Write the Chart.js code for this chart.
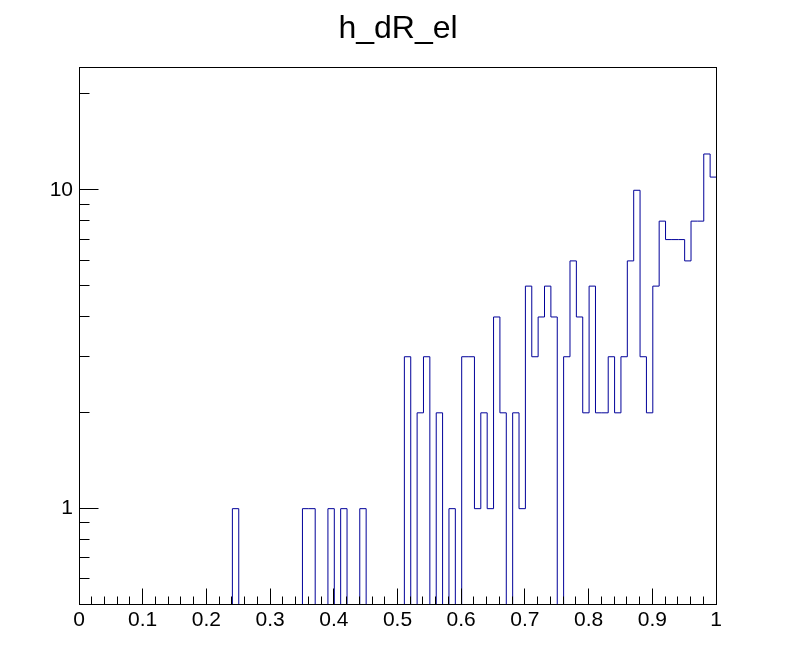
<!DOCTYPE html>
<html>
<head>
<meta charset="utf-8">
<script src="https://cdn.jsdelivr.net/npm/chart.js@4/dist/chart.umd.min.js"></script>
<style>
  html, body { margin: 0; padding: 0; background: #fff; }
  #wrap { width: 796px; height: 672px; }
</style>
</head>
<body>
<div id="wrap"><canvas id="h_dR_el" width="796" height="672"></canvas></div>
<script>
// histogram h_dR_el : 100 bins from 0 to 1
var nBins = 100;
var xMin = 0;
var xMax = 1;
var counts = [
  0, 0, 0, 0, 0, 0, 0, 0, 0, 0,
  0, 0, 0, 0, 0, 0, 0, 0, 0, 0,
  0, 0, 0, 0, 1, 0, 0, 0, 0, 0,
  0, 0, 0, 0, 0, 1, 1, 0, 0, 1,
  0, 1, 0, 0, 1, 0, 0, 0, 0, 0,
  0, 3, 0, 2, 3, 0, 2, 0, 1, 0,
  3, 3, 1, 2, 1, 4, 2, 0, 2, 1,
  5, 3, 4, 5, 4, 0, 3, 6, 4, 2,
  5, 2, 2, 3, 2, 3, 6, 10, 3, 2,
  5, 8, 7, 7, 7, 6, 8, 8, 13, 11
];

var yMin = 0.5;
var yMax = 24.3;
var xTickLabels = ['0', '0.1', '0.2', '0.3', '0.4', '0.5', '0.6', '0.7', '0.8', '0.9', '1'];
var xTickValues = [0, 0.1, 0.2, 0.3, 0.4, 0.5, 0.6, 0.7, 0.8, 0.9, 1];
var xMinorStep = 0.02;
var yTickValues = [1, 10];
var yTickLabels = ['1', '10'];
var yMinorValues = [0.6, 0.7, 0.8, 0.9, 2, 3, 4, 5, 6, 7, 8, 9, 20];

var lineColor = '#000099';
var fontFamily = "'Liberation Sans', Arial, Helvetica, sans-serif";

// step outline: one point per bin low edge, plus the upper edge of the last bin
var binWidth = (xMax - xMin) / nBins;
var points = [];
for (var i = 0; i < nBins; i++) {
  points.push({ x: xMin + i * binWidth, y: Math.max(counts[i], yMin) });
}
points.push({ x: xMax, y: Math.max(counts[nBins - 1], yMin) });

// half pixel shift so the 1px outline is not smeared over two pixels
var crispLines = {
  id: 'crispLines',
  beforeDatasetsDraw: function(chart) { chart.ctx.save(); chart.ctx.translate(0.5, 0.5); },
  afterDatasetsDraw: function(chart) { chart.ctx.restore(); }
};

// ROOT style frame with ticks drawn inside
var rootFrame = {
  id: 'rootFrame',
  afterDraw: function(chart) {
    var ctx = chart.ctx;
    var xs = chart.scales.x, ys = chart.scales.y;
    var a = chart.chartArea;
    var L = Math.floor(a.left) + 0.5, R = Math.floor(a.right) + 0.5;
    var T = Math.floor(a.top) + 0.5, B = Math.floor(a.bottom) + 0.5;
    ctx.save();
    ctx.strokeStyle = '#000';
    ctx.lineWidth = 1;
    ctx.strokeRect(L, T, R - L, B - T);
    ctx.beginPath();
    var k, px, py;
    for (k = 0; k <= Math.round((xMax - xMin) / xMinorStep); k++) {
      var v = xMin + k * xMinorStep;
      px = Math.floor(xs.getPixelForValue(v)) + 0.5;
      var major = Math.abs(v * 10 - Math.round(v * 10)) < 1e-6;
      ctx.moveTo(px, B);
      ctx.lineTo(px, B - (major ? 16 : 8));
    }
    for (k = 0; k < yTickValues.length; k++) {
      py = Math.floor(ys.getPixelForValue(yTickValues[k])) + 0.5;
      ctx.moveTo(L, py);
      ctx.lineTo(L + 19, py);
    }
    for (k = 0; k < yMinorValues.length; k++) {
      py = Math.floor(ys.getPixelForValue(yMinorValues[k])) + 0.5;
      ctx.moveTo(L, py);
      ctx.lineTo(L + 10, py);
    }
    ctx.stroke();
    ctx.restore();
  }
};

var ctx = document.getElementById('h_dR_el').getContext('2d');
var chart = new Chart(ctx, {
  type: 'line',
  data: {
    datasets: [{
      label: 'h_dR_el',
      data: points,
      stepped: true,
      borderColor: lineColor,
      borderWidth: 1,
      pointRadius: 0,
      fill: false
    }]
  },
  options: {
    responsive: false,
    animation: false,
    layout: { padding: 0 },
    plugins: {
      legend: { display: false },
      tooltip: { enabled: false },
      title: {
        display: true,
        text: 'h_dR_el',
        color: '#000',
        font: { family: fontFamily, size: 32, weight: 'normal', lineHeight: 1.2 },
        padding: { top: 10, bottom: 18.6 }
      }
    },
    scales: {
      x: {
        type: 'linear',
        min: xMin,
        max: xMax,
        border: { display: false },
        grid: { display: false, drawTicks: false },
        afterBuildTicks: function(s) {
          s.ticks = xTickValues.map(function(v) { return { value: v }; });
        },
        afterFit: function(s) { s.height = 68; },
        ticks: {
          autoSkip: false,
          maxRotation: 0,
          padding: 4,
          color: '#000',
          font: { family: fontFamily, size: 21 },
          callback: function(v) {
            var idx = xTickValues.indexOf(v);
            return idx >= 0 ? xTickLabels[idx] : '';
          }
        }
      },
      y: {
        type: 'logarithmic',
        min: yMin,
        max: yMax,
        border: { display: false },
        grid: { display: false, drawTicks: false },
        afterBuildTicks: function(s) {
          s.ticks = yTickValues.map(function(v) { return { value: v }; });
        },
        afterFit: function(s) { s.width = 79; },
        ticks: {
          autoSkip: false,
          padding: 6,
          color: '#000',
          font: { family: fontFamily, size: 21 },
          callback: function(v) {
            var idx = yTickValues.indexOf(v);
            return idx >= 0 ? yTickLabels[idx] : '';
          }
        }
      },
      // empty right margin, same width as the ROOT pad margin
      yRight: {
        type: 'linear',
        position: 'right',
        display: true,
        border: { display: false },
        grid: { display: false, drawTicks: false },
        ticks: { display: false },
        afterFit: function(s) { s.width = 80; }
      }
    }
  },
  plugins: [crispLines, rootFrame]
});
</script>
</body>
</html>
